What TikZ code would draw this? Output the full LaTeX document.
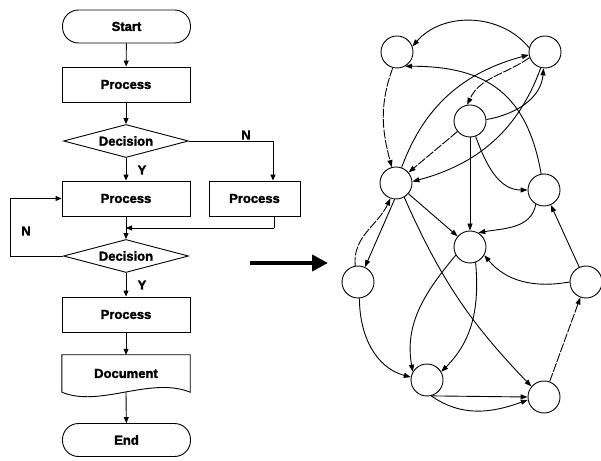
\documentclass[tikz,border=0pt]{standalone}
\usepackage{fontspec}
\setmainfont{Liberation Sans}
\newfontfamily\heavyfont{Liberation Sans Bold}[FakeBold=2]
\usetikzlibrary{shapes.geometric,arrows.meta,calc}
\begin{document}
\begin{tikzpicture}[x=1pt,y=1pt,
  every node/.style={font=\fontsize{13}{15}\heavyfont},
  box/.style={draw,line width=0.9pt,minimum width=128pt,minimum height=35pt,inner sep=0pt},
  term/.style={box,rounded corners=16pt,minimum height=33pt},
  dec/.style={draw,line width=0.9pt,diamond,minimum width=125pt,minimum height=33pt,inner sep=0pt,aspect=3.8},
  flow/.style={line width=0.9pt,-{Triangle[length=6pt,width=5pt]}},
  vtx/.style={draw,circle,line width=0.9pt,minimum size=32pt,inner sep=0pt},
  edge/.style={line width=0.9pt,-{Triangle[length=7pt,width=5pt]}},
  dsh/.style={dash pattern=on 9pt off 1.5pt},
]
\useasboundingbox (0,0) rectangle (601,460);
% flowchart
\node[term] (start) at (126.5,433.5) {Start};
\node[box] (p1) at (126,375.5) {Process};
\node[dec] (d1) at (126,319) {Decision};
\node[box] (p2) at (126,261.5) {Process};
\node[box,minimum width=91pt] (p3) at (254.5,261.5) {Process};
\node[dec] (d2) at (126,204) {Decision};
\node[box] (p4) at (126,145.5) {Process};
\node[minimum width=128pt,minimum height=37pt,inner sep=0pt] (doc) at (126,86.5) {Document};
\draw[line width=0.9pt] (doc.south west) -- (doc.north west) -- (doc.north east) -- (doc.south east) .. controls (150,84) and (100,52) .. (doc.south west);
\coordinate (docb) at (126,68);
\node[term] (end) at (126.5,20) {End};
\draw[flow] (start) -- (p1);
\draw[flow] (p1) -- (d1);
\draw[flow] (d1) -- (p2);
\draw[flow] (p2) -- (d2);
\draw[flow] (d2) -- (p4);
\draw[flow] (p4) -- (doc);
\draw[flow] (docb) -- (end);
\coordinate (n1) at (273,319);
\draw[flow] (d1.east) -- (n1) -- (n1 |- p3.north);
\coordinate (m1) at (274,232);
\draw[line width=0.9pt] (m1 |- p3.south) -- (m1);
\draw[flow] (m1) -- (m1 -| p2.south);
\coordinate (l1) at (10,204);
\draw[flow] (d2.west) -- (l1) |- (p2.west);
\node (ly1) at (142,290) {Y};
\node (ly2) at (142,175) {Y};
\node (ln1) at (246,325) {N};
\node (ln2) at (26,229) {N};
% big arrow
\coordinate (ta) at (250,197);
\coordinate (tb) at (328,197);
\draw[line width=4.5pt,-{Triangle[length=16pt,width=16pt]}] (ta) -- (tb);
% graph
\node[vtx] (A) at (397,408) {};
\node[vtx] (B) at (545,408) {};
\node[vtx] (C) at (470,339) {};
\node[vtx] (D) at (396,277) {};
\node[vtx] (E) at (544,270) {};
\node[vtx] (F) at (470,213) {};
\node[vtx] (G) at (358,178) {};
\node[vtx] (H) at (586,178) {};
\node[vtx] (I) at (427,80) {};
\node[vtx] (J) at (544,63) {};
\draw[edge] (B.165) to[bend right=50] (A.20);
\draw[edge] (E.100) to[out=100,in=0,looseness=1.2] (A.-60);
\draw[edge,dsh] (A.-105) to[out=-110,in=105] (D.105);
\draw[edge] (D.70) to[out=70,in=195] (B.190);
\draw[edge,dsh] (B.200) to[out=215,in=65] (C.100);
\draw[edge] (C.5) to[out=10,in=-95] (B.-95);
\draw[edge,dsh] (C) -- (D);
\draw[edge] (B.-105) to[out=-110,in=15] (D.5);
\draw[edge] (C) -- (F);
\draw[edge] (C.-70) to[out=-70,in=180] (E.180);
\draw[edge] (D) -- (F);
\draw[edge] (E.-120) to[out=-100,in=10] (F.60);
\draw[edge] (H) -- (E);
\draw[edge] (H.180) to[out=190,in=-50] (F.-30);
\draw[edge,dsh] (G.100) to[out=95,in=-115] (D.-110);
\draw[edge] (D.-95) -- (G.65);
\draw[edge] (D.-60) to[bend right=10] (J.140);
\draw[edge] (G.-85) to[out=-90,in=165] (I.170);
\draw[edge] (F.-150) to[out=-130,in=100] (I.150);
\draw[edge] (F.-70) to[out=-85,in=45] (I.30);
\draw[edge] (I.-75) -- (J.180);
\draw[edge] (I.-75) to[out=-35,in=200] (J.190);
\draw[edge,dsh] (J) -- (H);
\end{tikzpicture}
\end{document}
